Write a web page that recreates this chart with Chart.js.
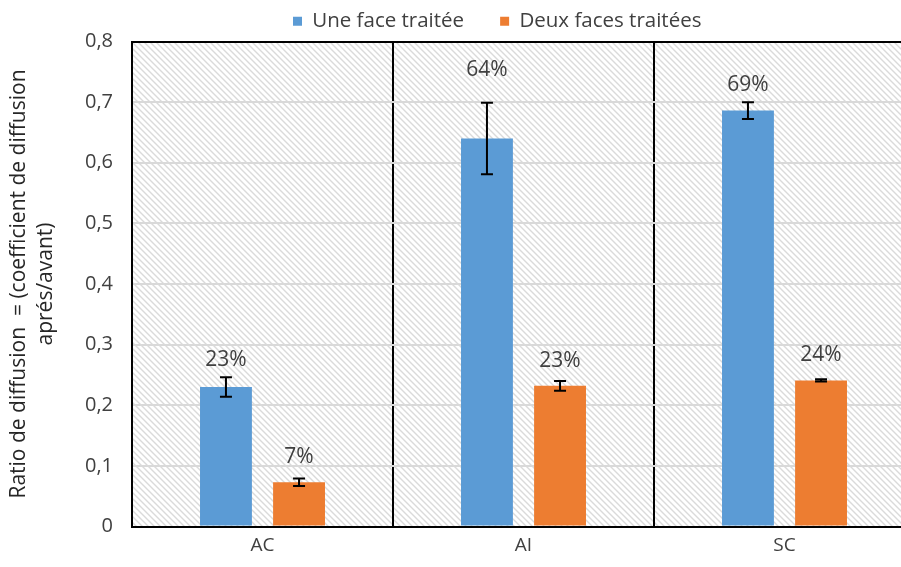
<!DOCTYPE html>
<html>
<head>
<meta charset="utf-8">
<script src="https://cdn.jsdelivr.net/npm/chart.js@4"></script>
<style>
  html, body { margin: 0; padding: 0; background: #fff; overflow: hidden; }
  #wrap { width: 930px; height: 567px; }
</style>
</head>
<body>
<div id="wrap"><canvas id="chart" width="930" height="567"></canvas></div>
<script>
const categories = ['AC', 'AI', 'SC'];
const seriesNames = ['Une face traitée', 'Deux faces traitées'];
const uneFace = [0.23, 0.64, 0.686];
const deuxFaces = [0.073, 0.232, 0.241];
const uneFaceErr = [0.016, 0.059, 0.014];
const deuxFacesErr = [0.006, 0.008, 0.002];
const yMin = 0;
const yMax = 0.8;
const yStep = 0.1;
const yTitle = ['Ratio de diffusion  = (coefficient de diffusion', 'aprés/avant)'];

const FONT = '"Open Sans", sans-serif';
const TEXT = '#404040';

// light "\\\" hatch used as plot background
const makeHatch = () => {
    const s = 6;
    const c = document.createElement('canvas');
    c.width = s; c.height = s;
    const g = c.getContext('2d');
    g.fillStyle = '#fff';
    g.fillRect(0, 0, s, s);
    g.strokeStyle = '#dadada';
    g.lineWidth = 1.4;
    g.beginPath();
    g.moveTo(-1, -1); g.lineTo(s + 1, s + 1);
    g.moveTo(-1, s - 1); g.lineTo(1, s + 1);
    g.moveTo(s - 1, -1); g.lineTo(s + 1, 1);
    g.stroke();
    return g.createPattern(c, 'repeat');
};

const hatchBg = {
    id: 'hatchBg',
    beforeDraw(chart) {
        const {ctx, chartArea: a} = chart;
        ctx.save();
        ctx.fillStyle = makeHatch();
        ctx.fillRect(a.left, a.top, a.right - a.left, a.bottom - a.top);
        ctx.restore();
    }
};

// error bars + percentage labels over each bar
const errors = [uneFaceErr, deuxFacesErr];
const labelLift = [[27, 68, 26], [25, 25, 25]];
const barExtras = {
    id: 'barExtras',
    afterDatasetsDraw(chart) {
        const {ctx, scales: {y}} = chart;
        ctx.save();
        chart.data.datasets.forEach((ds, di) => {
            chart.getDatasetMeta(di).data.forEach((bar, i) => {
                const v = ds.data[i];
                const e = errors[di][i];
                const yHi = y.getPixelForValue(v + e);
                const yLo = y.getPixelForValue(v - e);
                ctx.strokeStyle = '#000';
                ctx.lineWidth = 2;
                ctx.beginPath();
                ctx.moveTo(bar.x, yHi); ctx.lineTo(bar.x, yLo);
                ctx.moveTo(bar.x - 6, yHi); ctx.lineTo(bar.x + 6, yHi);
                ctx.moveTo(bar.x - 6, yLo); ctx.lineTo(bar.x + 6, yLo);
                ctx.stroke();

                ctx.fillStyle = TEXT;
                ctx.font = '21px ' + FONT;
                ctx.textAlign = 'center';
                ctx.textBaseline = 'middle';
                ctx.fillText(Math.round(v * 100) + '%', bar.x, bar.y - labelLift[di][i]);
            });
        });
        ctx.restore();
    }
};

// legend row is not centred on the canvas; slide it sideways
const legendPad = 36;
const legendFont = 20.5;
const legendStartX = 293;
const legendShift = {
    id: 'legendShift',
    afterLayout(chart) {
        const lg = chart.legend;
        const rowStart = (lg.left + legendPad + lg.right - lg.lineWidths[0]) / 2;
        const dx = legendStartX - rowStart;
        lg.left += dx;
        lg.right += dx;
    }
};

new Chart(document.getElementById('chart'), {
    type: 'bar',
    data: {
        labels: categories,
        datasets: [
            { label: seriesNames[0], data: uneFace, backgroundColor: '#5b9bd5' },
            { label: seriesNames[1], data: deuxFaces, backgroundColor: '#ed7d31' }
        ]
    },
    options: {
        responsive: false,
        animation: false,
        categoryPercentage: 0.56,
        barPercentage: 0.71,
        // wide legend padding spaces the items; pull the strip up to compensate
        layout: { padding: { top: -25, right: 15, bottom: 0, left: 0 } },
        plugins: {
            legend: {
                position: 'top',
                labels: {
                    boxWidth: 9,
                    boxHeight: 9,
                    padding: legendPad,
                    color: TEXT,
                    font: { family: FONT, size: legendFont }
                }
            },
            tooltip: { enabled: false }
        },
        scales: {
            x: {
                grid: { color: '#000', lineWidth: 2, drawTicks: false, offset: true },
                border: { color: '#000', width: 2 },
                ticks: { color: TEXT, font: { family: FONT, size: 19 }, padding: 8 },
                afterFit: (s) => { s.height = 40.5; }
            },
            y: {
                min: yMin,
                max: yMax,
                ticks: {
                    stepSize: yStep,
                    color: TEXT,
                    padding: 19,
                    font: { family: FONT, size: 20 },
                    callback: (v) => v === 0 ? '0' : v.toFixed(1).replace('.', ',')
                },
                grid: {
                    color: (c) => Math.abs(c.tick.value - yMax) < 1e-9 ? '#000' : '#d9d9d9',
                    lineWidth: 2,
                    drawTicks: false
                },
                border: { color: '#000', width: 2 },
                title: {
                    display: true,
                    text: yTitle,
                    color: '#262626',
                    font: { family: FONT, size: 21, lineHeight: 1.3 },
                    padding: { top: 5, bottom: 0 }
                },
                afterFit: (s) => { s.width = 132; }
            }
        }
    },
    plugins: [hatchBg, barExtras, legendShift]
});
</script>
</body>
</html>
